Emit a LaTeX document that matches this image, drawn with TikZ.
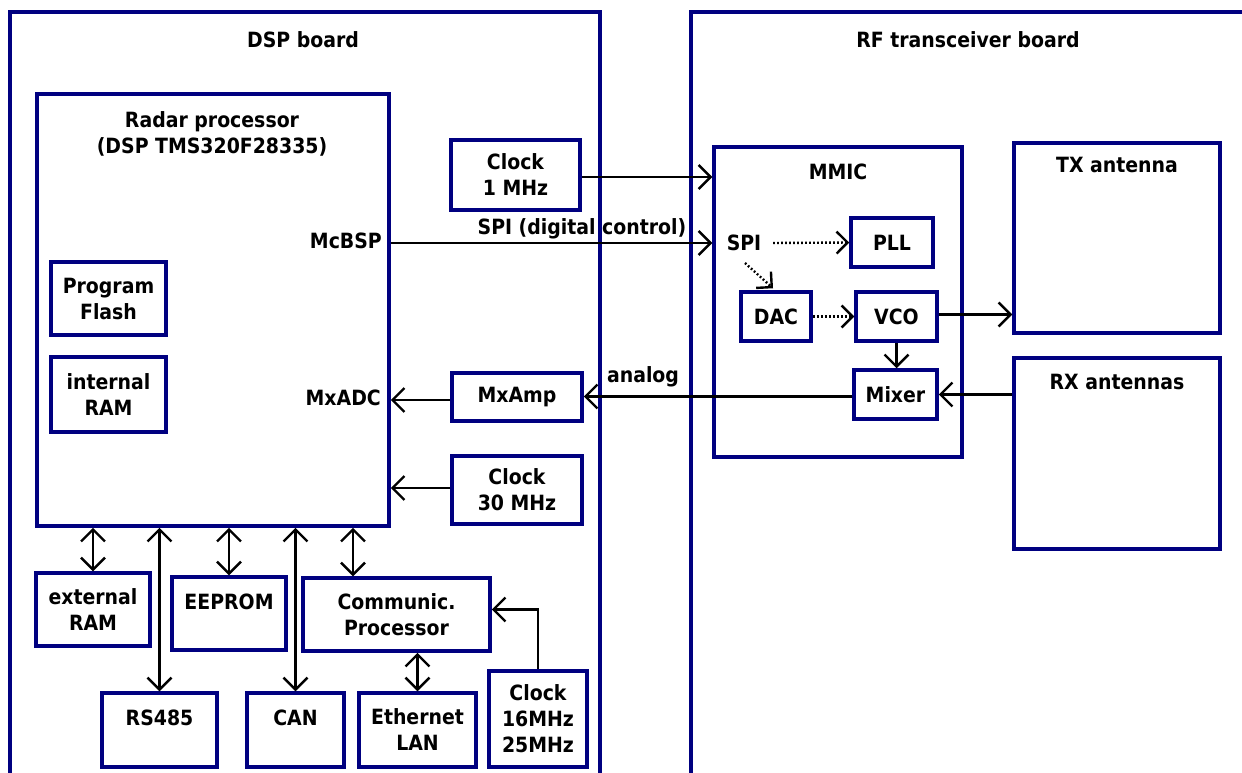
\documentclass[tikz,border=0pt]{standalone}
\usepackage{fontspec}
\setmainfont{DejaVu Sans Condensed}
\usetikzlibrary{arrows.meta}
\definecolor{navy}{RGB}{0,0,128}
\begin{document}
\begin{tikzpicture}[x=1pt,y=-1pt,
  board/.style={draw=navy, line width=4pt},
  box/.style={draw=navy, line width=3.5pt, fill=white, inner sep=0pt,
    font=\bfseries\fontsize{21}{26}\selectfont, align=center},
  txt/.style={inner sep=0pt, font=\bfseries\fontsize{21}{26}\selectfont, align=center},
  tip/.tip={Straight Barb[length=12pt,width=24pt,line width=2.4pt]},
  arr/.style={line width=2.4pt, -tip},
  darr/.style={line width=2.4pt, tip-tip},
  dotarr/.style={line width=2.4pt, dash pattern=on 1.8pt off 2.2pt, -{Straight Barb[length=11pt,width=22pt,line width=2.4pt,sep=0pt]}},
]
\useasboundingbox (0,0) rectangle (1242,773);
\fill[white] (0,0) rectangle (1242,773);

% boards
\draw[board] (10,790) -- (10,12) -- (600,12) -- (600,790);
\draw[board] (691,790) -- (691,12) -- (1260,12);
\node[txt] (dspT) at (303,40) {DSP board};
\node[txt] (rfT) at (968,40) {RF transceiver board};

% DSP board
\node[box, minimum width=352, minimum height=432] (radar) at (213,310) {};
\node[txt] (radarT) at (212,134) {Radar processor\\(DSP TMS320F28335)};
\node[txt, anchor=east] (mcbsp) at (382,241) {McBSP};
\node[txt, anchor=east] (mxadc) at (381,398) {MxADC};
\node[box, minimum width=115, minimum height=73] (flash) at (108.5,298.5) {Program\\Flash};
\node[box, minimum width=115, minimum height=75] (iram) at (108.5,394.5) {internal\\RAM};
\node[box, minimum width=129, minimum height=70] (clk1) at (515.5,175) {Clock\\1 MHz};
\node[box, minimum width=130, minimum height=48] (mxamp) at (517,397) {MxAmp};
\node[box, minimum width=130, minimum height=68] (clk30) at (517,490) {Clock\\30 MHz};
\node[box, minimum width=114, minimum height=73] (extram) at (93,609.5) {external\\RAM};
\node[box, minimum width=114, minimum height=73] (eeprom) at (229,613.5) {};
\node[txt] (eepromT) at (229,602) {EEPROM};
\node[box, minimum width=187, minimum height=73] (comm) at (396.5,614.5) {Communic.\\Processor};
\node[box, minimum width=115, minimum height=74] (rs485) at (159.5,730) {};
\node[txt] (rs485T) at (159.5,718) {RS485};
\node[box, minimum width=97, minimum height=74] (can) at (295.5,730) {};
\node[txt] (canT) at (295.5,718) {CAN};
\node[box, minimum width=117, minimum height=74] (eth) at (417.5,730) {Ethernet\\LAN};
\node[box, minimum width=98, minimum height=96] (clk16) at (538,719) {Clock\\16MHz\\25MHz};

% RF board
\node[box, minimum width=248, minimum height=310] (mmic) at (838,302) {};
\node[txt] (mmicT) at (838,172) {MMIC};
\node[txt] (spiT) at (744,243) {SPI};
\node[box, minimum width=82, minimum height=49] (pll) at (892,242.5) {PLL};
\node[box, minimum width=70, minimum height=49] (dac) at (776,316.5) {DAC};
\node[box, minimum width=81, minimum height=49] (vco) at (896.5,316.5) {VCO};
\node[box, minimum width=83, minimum height=49] (mixer) at (895.5,394.5) {Mixer};
\node[box, minimum width=206, minimum height=190] (tx) at (1117,238) {};
\node[txt] (txT) at (1117,165) {TX antenna};
\node[box, minimum width=206, minimum height=191] (rx) at (1117,453.5) {};
\node[txt] (rxT) at (1117,382) {RX antennas};

% labels
\node[txt] (spiL) at (582,229) {SPI (digital control)};
\node[txt] (analogL) at (643,377) {analog};

% connectors
\coordinate (c1) at ([yshift=-2pt]clk1.east);
\draw[arr] (c1) -- (mmic.west |- c1);
\draw[arr] (radar.east |- spiT) -- (mmic.west |- spiT);
\coordinate (mx) at ([yshift=-2pt]mixer.west);
\draw[arr] (mx) -- (mxamp.east |- mx);
\coordinate (ma) at ([yshift=-3pt]mxamp.west);
\draw[arr] (ma) -- (radar.east |- ma);
\coordinate (c30) at ([yshift=2pt]clk30.west);
\draw[arr] (c30) -- (radar.east |- c30);
\coordinate (vo) at ([yshift=2pt]vco.east);
\draw[arr] (vo) -- (tx.west |- vo);
\draw[arr] (rx.west |- mixer.east) -- (mixer.east);
\draw[arr] (vco.south) -- (vco.south |- mixer.north);
\draw[dotarr] ([xshift=29pt]spiT.center) -- (pll.west);
\draw[dotarr] ([xshift=1pt,yshift=-20pt]spiT.center) -- ([xshift=-3pt,yshift=2pt]dac.north);
\draw[dotarr] (dac.east) -- (vco.west);

\draw[darr] (radar.south -| extram.north) -- (extram.north);
\draw[darr] (radar.south -| rs485.north) -- (rs485.north);
\draw[darr] (radar.south -| eeprom.north) -- (eeprom.north);
\draw[darr] (radar.south -| can.north) -- (can.north);
\coordinate (commTop) at ([xshift=-43.5pt]comm.north);
\draw[darr] (radar.south -| commTop) -- (commTop);
\draw[darr] (comm.south -| eth.north) -- (eth.north);
\draw[arr] (clk16.north) |- ([yshift=5pt]comm.east);
\end{tikzpicture}
\end{document}
